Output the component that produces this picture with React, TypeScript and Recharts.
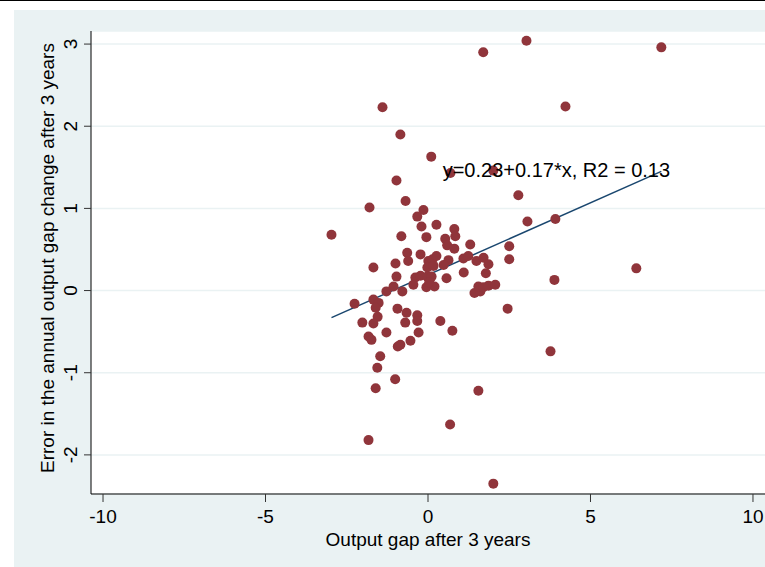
import {
  ScatterChart, Scatter, XAxis, YAxis, CartesianGrid, ReferenceLine,
} from 'recharts';

const FONT = '"Liberation Sans", Arial, Helvetica, sans-serif';
const DOT = '#90353b';
const FIT = '#1a476f';
const BG = '#eaf2f3';

const X_TICKS = [-10, -5, 0, 5, 10];
const Y_TICKS = [-2, -1, 0, 1, 2, 3];

// output gap after 3 years (x) vs error in annual output gap change (y)
const outliers = [
  { x: -2.97, y: 0.68 }, { x: -1.40, y: 2.23 }, { x: -0.85, y: 1.90 }, { x: 0.10, y: 1.63 },
  { x: 1.70, y: 2.90 }, { x: 3.03, y: 3.04 }, { x: 7.18, y: 2.96 }, { x: 4.23, y: 2.24 },
  { x: -0.97, y: 1.34 }, { x: 0.69, y: 1.43 }, { x: 2.01, y: 1.46 }, { x: 2.78, y: 1.16 },
  { x: -1.80, y: 1.01 }, { x: 3.06, y: 0.84 }, { x: 3.92, y: 0.87 }, { x: 2.50, y: 0.54 },
  { x: 2.50, y: 0.38 }, { x: 3.89, y: 0.13 }, { x: 6.41, y: 0.27 }, { x: 2.45, y: -0.22 },
  { x: 3.77, y: -0.74 }, { x: 1.55, y: -1.22 }, { x: 0.68, y: -1.63 }, { x: 2.01, y: -2.35 },
  { x: -1.83, y: -1.82 }, { x: -1.61, y: -1.19 }, { x: -1.01, y: -1.08 }, { x: -1.56, y: -0.94 },
  { x: -1.47, y: -0.80 }, { x: -0.93, y: -0.68 }, { x: -0.85, y: -0.66 }, { x: -0.54, y: -0.61 },
  { x: -0.29, y: -0.51 }, { x: 0.75, y: -0.49 }, { x: -1.83, y: -0.56 }, { x: -1.74, y: -0.60 },
  { x: -1.28, y: -0.51 },
];

const cluster = [
  { x: -0.69, y: 1.09 }, { x: -0.33, y: 0.90 }, { x: -0.14, y: 0.98 }, { x: -0.20, y: 0.78 },
  { x: 0.26, y: 0.80 }, { x: -0.82, y: 0.66 }, { x: -0.05, y: 0.65 }, { x: 0.81, y: 0.75 },
  { x: 0.84, y: 0.66 }, { x: 0.53, y: 0.63 }, { x: 0.59, y: 0.55 }, { x: 0.81, y: 0.51 },
  { x: 1.30, y: 0.56 }, { x: -1.68, y: 0.28 }, { x: -0.64, y: 0.46 }, { x: -0.61, y: 0.36 },
  { x: -0.23, y: 0.44 }, { x: -1.00, y: 0.33 }, { x: -0.97, y: 0.17 }, { x: 0.01, y: 0.36 },
  { x: 0.14, y: 0.38 }, { x: 0.26, y: 0.42 }, { x: -0.02, y: 0.28 }, { x: 0.17, y: 0.30 },
  { x: 0.63, y: 0.37 }, { x: 0.48, y: 0.31 }, { x: 1.09, y: 0.39 }, { x: 1.24, y: 0.42 },
  { x: 1.49, y: 0.36 }, { x: 1.71, y: 0.40 }, { x: 1.86, y: 0.32 }, { x: 1.78, y: 0.21 },
  { x: 1.10, y: 0.22 }, { x: 0.57, y: 0.15 }, { x: -0.39, y: 0.16 }, { x: -0.23, y: 0.18 },
  { x: -0.45, y: 0.07 }, { x: -0.02, y: 0.17 }, { x: 0.11, y: 0.17 }, { x: -0.05, y: 0.04 },
  { x: 0.20, y: 0.05 }, { x: 0.04, y: 0.10 }, { x: -1.06, y: 0.05 }, { x: -1.28, y: -0.01 },
  { x: -0.79, y: -0.01 }, { x: 1.43, y: -0.03 }, { x: 1.61, y: -0.01 }, { x: 1.55, y: 0.05 },
  { x: 1.70, y: 0.04 }, { x: 1.86, y: 0.06 }, { x: 2.07, y: 0.07 }, { x: -2.26, y: -0.16 },
  { x: -1.68, y: -0.11 }, { x: -1.52, y: -0.15 }, { x: -1.61, y: -0.21 }, { x: -0.94, y: -0.22 },
  { x: -0.66, y: -0.27 }, { x: -1.55, y: -0.32 }, { x: -2.02, y: -0.39 }, { x: -1.68, y: -0.40 },
  { x: -0.70, y: -0.39 }, { x: -0.33, y: -0.30 }, { x: -0.33, y: -0.37 }, { x: 0.38, y: -0.37 },
];

const fitLine = [{ x: -2.97, y: -0.33 }, { x: 7.18, y: 1.45 }];
const fitLabel = [{ x: 7.45, y: 1.47, text: 'y=0.23+0.17*x, R2 = 0.13' }];

const points = [...outliers, ...cluster];

const YTick = ({ x, y, payload }: any) => (
  <text
    transform={`translate(${x - 7},${y}) rotate(-90)`}
    textAnchor="middle"
    fontFamily={FONT}
    fontSize={19}
    fill="#000"
  >
    {payload.value}
  </text>
);

const XTick = ({ x, y, payload }: any) => (
  <text x={x} y={y + 19} textAnchor="middle" fontFamily={FONT} fontSize={19} fill="#000">
    {payload.value}
  </text>
);

export default function App() {
  return (
    <div style={{ position: 'absolute', left: 0, top: 0, width: 765, height: 567, background: '#fff', overflow: 'hidden' }}>
      <div style={{ position: 'absolute', left: 0, top: 0, width: 765, height: 1, background: '#000' }} />
      <div style={{ position: 'absolute', left: 14, top: 10, width: 751, height: 557, background: BG }} />
      <div style={{ position: 'absolute', left: 0, top: 0 }}>
        <ScatterChart width={765} height={567} margin={{ top: 31, right: 0, bottom: 0, left: 14 }}>
          <CartesianGrid vertical={false} stroke={BG} strokeWidth={1.5} fill="#fff" />
          <XAxis
            type="number"
            dataKey="x"
            domain={[-10.37, 10.37]}
            ticks={X_TICKS}
            allowDataOverflow
            height={73}
            axisLine={{ stroke: '#000' }}
            tickLine={{ stroke: '#333' }}
            tickSize={8}
            tick={<XTick />}
            label={() => (
              <text x={428} y={546} textAnchor="middle" fontFamily={FONT} fontSize={19} fill="#000">
                Output gap after 3 years
              </text>
            )}
          />
          <YAxis
            type="number"
            dataKey="y"
            domain={[-2.476, 3.159]}
            ticks={Y_TICKS}
            allowDataOverflow
            width={77}
            axisLine={{ stroke: '#000' }}
            tickLine={{ stroke: '#333' }}
            tickSize={7}
            tickMargin={0}
            tick={<YTick />}
            label={() => (
              <text
                transform="translate(54,258) rotate(-90)"
                textAnchor="middle"
                fontFamily={FONT}
                fontSize={19}
                fill="#000"
              >
                Error in the annual output gap change after 3 years
              </text>
            )}
          />
          <Scatter
            data={points}
            isAnimationActive={false}
            shape={(p: any) => <circle cx={p.cx} cy={p.cy} r={5} fill={DOT} />}
          />
          <ReferenceLine segment={fitLine} stroke={FIT} strokeWidth={1.5} />
          <Scatter
            data={fitLabel}
            isAnimationActive={false}
            shape={(p: any) => (
              <text x={p.cx} y={p.cy + 7} textAnchor="end" fontFamily={FONT} fontSize={20} fill="#000">
                {p.payload.text}
              </text>
            )}
          />
        </ScatterChart>
      </div>
    </div>
  );
}
